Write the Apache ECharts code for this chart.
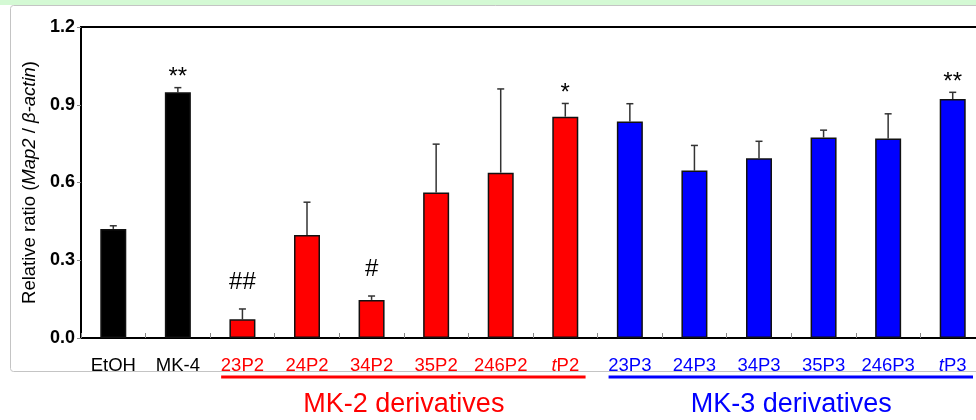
<!DOCTYPE html>
<html><head><meta charset="utf-8">
<script src="https://cdn.jsdelivr.net/npm/echarts@6/dist/echarts.min.js"></script>
<style>html,body{margin:0;padding:0;background:#fff}#c{width:976px;height:420px}</style>
</head><body><div id="c"></div>
<script>
const categories = ['EtOH','MK-4','23P2','24P2','34P2','35P2','246P2','tP2','23P3','24P3','34P3','35P3','246P3','tP3'];
const groupOf    = ['ctl','ctl','mk2','mk2','mk2','mk2','mk2','mk2','mk3','mk3','mk3','mk3','mk3','mk3'];
const means      = [0.421, 0.948, 0.072, 0.397, 0.147, 0.561, 0.638, 0.854, 0.835, 0.646, 0.694, 0.774, 0.770, 0.922];
const errors     = [0.012, 0.018, 0.040, 0.127, 0.015, 0.187, 0.323, 0.051, 0.069, 0.097, 0.065, 0.028, 0.095, 0.026];
const marks      = ['', '**', '##', '', '#', '', '', '*', '', '', '', '', '', '**'];
const yTicks     = [0, 0.3, 0.6, 0.9, 1.2];
const groupTitles = [{key:'mk2', text:'MK-2 derivatives'}, {key:'mk3', text:'MK-3 derivatives'}];

const FONT = "'Liberation Sans', Arial, sans-serif";
const colorOf = {ctl:'#000000', mk2:'#ff0000', mk3:'#0000ff'};
const labelColorOf = {ctl:'#000000', mk2:'#ff0000', mk3:'#0000ff'};

const chart = echarts.init(document.getElementById('c'), null, {renderer:'canvas'});

const rich = {};
Object.keys(labelColorOf).forEach(k => {
  rich[k] = {color: labelColorOf[k], fontSize: 18.5, fontFamily: FONT};
  rich[k + 'i'] = {color: labelColorOf[k], fontSize: 18.5, fontFamily: FONT, fontStyle: 'italic'};
});

const option = {
  animation: false,
  grid: {left: 81, top: 27, width: 904, height: 311, show: true, borderColor: '#000', borderWidth: 2,
         backgroundColor: 'transparent', containLabel: false, outerBoundsMode: 'none'},
  xAxis: {
    type: 'category', data: categories, boundaryGap: true,
    axisLine: {lineStyle: {color: '#000', width: 2}},
    axisTick: {show: true, inside: true, length: 5, lineStyle: {color: '#888', width: 1}},
    axisLabel: {
      margin: 18, interval: 0,
      formatter: (v, i) => {
        const g = groupOf[i];
        if (v.startsWith('t')) return '{' + g + 'i|t}{' + g + '|' + v.slice(1) + '}';
        return '{' + g + '|' + v + '}';
      },
      rich: rich
    },
    splitLine: {show: false}
  },
  yAxis: {
    type: 'value', min: yTicks[0], max: yTicks[yTicks.length-1], interval: 0.3,
    axisLine: {show: true, lineStyle: {color: '#000', width: 2}},
    axisTick: {show: true, length: 4, lineStyle: {color: '#888'}},
    axisLabel: {formatter: v => v.toFixed(1), color: '#000', fontSize: 18, fontWeight: 'bold', fontFamily: FONT, margin: 6},
    splitLine: {show: false},
    name: '{n|Relative ratio (}{i|Map2}{n| / }{i|β-actin}{n|)}',
    nameLocation: 'middle', nameGap: 42, nameRotate: 90,
    nameTextStyle: {rich: {n: {fontSize: 18.5, fontFamily: FONT, color: '#000'}, i: {fontSize: 18.5, fontFamily: FONT, color: '#000', fontStyle: 'italic'}}}
  },
  series: [
    {
      type: 'bar', barWidth: 26, z: 2,
      data: means.map((v, i) => ({value: v, itemStyle: {color: colorOf[groupOf[i]], borderColor: '#111', borderWidth: 1.5}}))
    },
    {
      type: 'custom', z: 1,
      data: means.map((v, i) => [i, v, errors[i]]),
      renderItem: (params, api) => {
        const i = api.value(0), m = api.value(1), e = api.value(2);
        const p0 = api.coord([i, m]);
        const p1 = api.coord([i, m + e]);
        const st = {stroke: '#333', lineWidth: 1.5};
        return {type: 'group', children: [
          {type: 'line', shape: {x1: p0[0], y1: p0[1], x2: p1[0], y2: p1[1]}, style: st},
          {type: 'line', shape: {x1: p1[0]-3.5, y1: p1[1], x2: p1[0]+3.5, y2: p1[1]}, style: st}
        ]};
      }
    },
    {
      type: 'custom', z: 3,
      data: means.map((v, i) => [i, v + errors[i]]),
      renderItem: (params, api) => {
        const i = api.value(0);
        const t = marks[i];
        if (!t) return null;
        const p = api.coord([i, api.value(1)]);
        const isHash = t.indexOf('#') >= 0;
        return {type: 'text', x: p[0], y: p[1] - (isHash ? 15 : -2),
          style: {text: t, font: '24px ' + FONT, fill: '#000', align: 'center', verticalAlign: 'bottom'}};
      }
    }
  ]
};
chart.setOption(option);

// decorations tied to the category axis
const c0 = chart.convertToPixel({xAxisIndex: 0}, 0);
const c1 = chart.convertToPixel({xAxisIndex: 0}, 1);
const band = c1 - c0;
const graphics = [
  {type: 'rect', shape: {x: 0, y: 0, width: 976, height: 5}, style: {fill: '#d4f9d4'}, silent: true},
  {type: 'rect', shape: {x: 10.5, y: 5.5, width: 1000, height: 366, r: 3}, style: {fill: 'none', stroke: '#c4c4c4', lineWidth: 1}, silent: true, z: -1}
];
groupTitles.forEach(g => {
  const idx = groupOf.map((k, i) => k === g.key ? i : -1).filter(i => i >= 0);
  const xs = chart.convertToPixel({xAxisIndex: 0}, idx[0]) - band / 2;
  const xe = chart.convertToPixel({xAxisIndex: 0}, idx[idx.length-1]) + band / 2;
  graphics.push({type: 'line', shape: {x1: xs + 11, y1: 377, x2: xe - 12, y2: 377}, style: {stroke: colorOf[g.key], lineWidth: 3}});
  graphics.push({type: 'text', x: (xs + xe) / 2, y: 405, style: {text: g.text, font: '27px ' + FONT, fill: colorOf[g.key], align: 'center', verticalAlign: 'middle'}});
});
chart.setOption({graphic: graphics});
</script>
</body></html>
